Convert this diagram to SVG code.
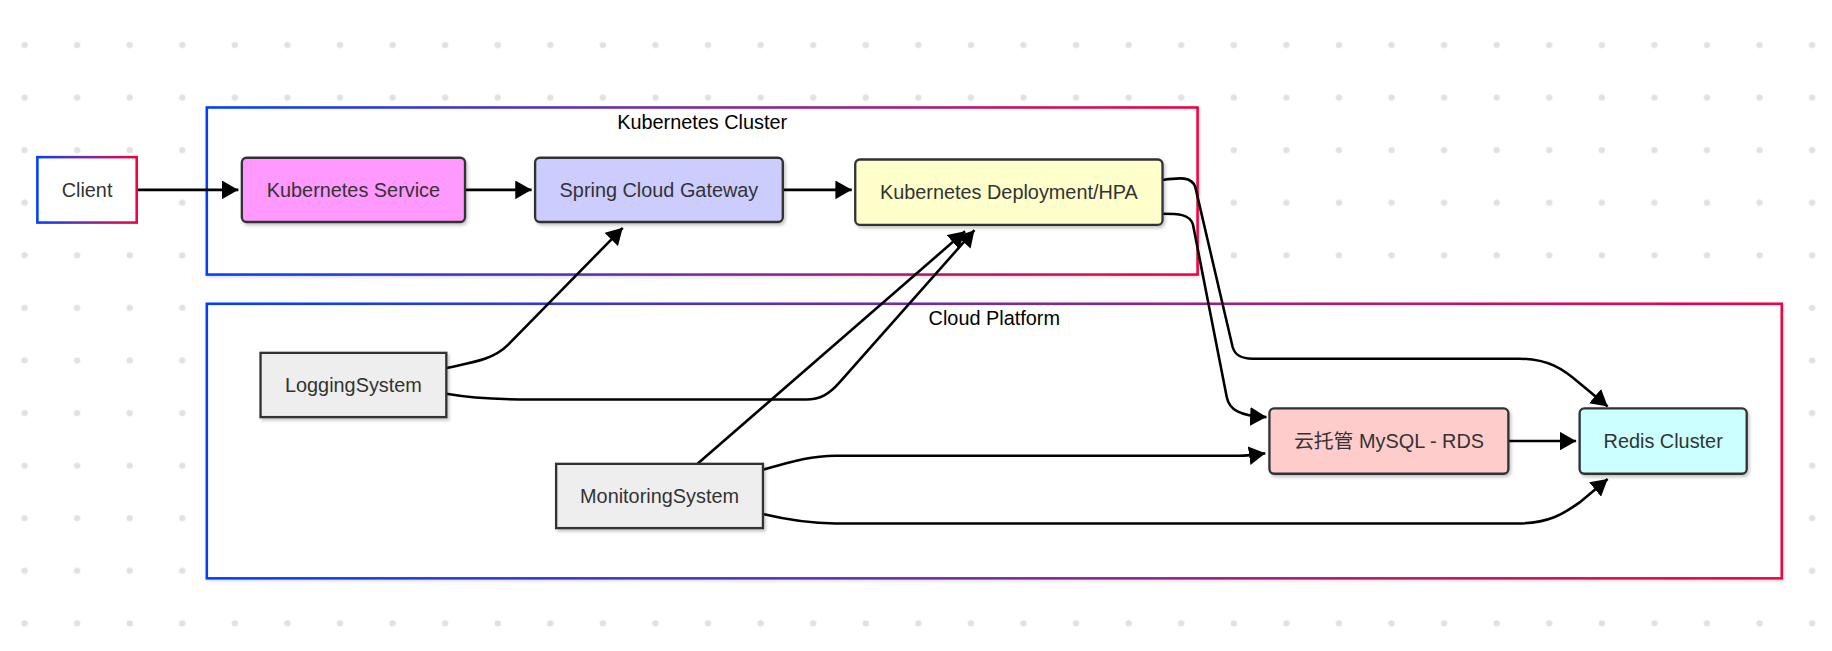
<svg xmlns="http://www.w3.org/2000/svg" width="1832" height="651" viewBox="0 0 1832 651">
<style>
.node rect{stroke:#333;stroke-width:2;filter:url(#sh)}
.lbl{font-family:"Liberation Sans",Arial,"Noto Sans CJK SC",sans-serif;font-size:17px;fill:#333;text-anchor:middle}
.clbl{font-family:"Liberation Sans",Arial,sans-serif;font-size:17px;fill:#000;text-anchor:middle}
.cluster rect{fill:#fff;stroke:url(#grad);stroke-width:2.2;filter:url(#csh)}
#edges path{fill:none;stroke:#000;stroke-width:2.2;marker-end:url(#arr)}
</style>
<defs>
<pattern id="dots" x="0" y="0" width="45" height="45" patternUnits="userSpaceOnUse">
<circle cx="21" cy="38.5" r="2.7" fill="#e1e1e1"/>
</pattern>
<linearGradient id="grad" x1="0" y1="0" x2="1" y2="0">
<stop offset="0" stop-color="#0040ff"/>
<stop offset="0.5" stop-color="#7a2aa0"/>
<stop offset="1" stop-color="#f50040"/>
</linearGradient>
<filter id="sh" x="-10%" y="-20%" width="130%" height="150%">
<feDropShadow dx="1.5" dy="2" stdDeviation="1.5" flood-color="#000" flood-opacity="0.22"/>
</filter>
<filter id="csh" x="-5%" y="-10%" width="110%" height="130%">
<feDropShadow dx="1" dy="1.5" stdDeviation="1.5" flood-color="#000" flood-opacity="0.12"/>
</filter>
<marker id="arr" viewBox="0 0 14 16" refX="14" refY="8" markerWidth="14" markerHeight="16" markerUnits="userSpaceOnUse" orient="auto">
<path d="M0,0 L14,8 L0,16 z" fill="#000"/>
</marker>
</defs>
<g transform="scale(1.168367)">
<rect x="0" y="0" width="1568" height="557" fill="#fff"/>
<rect x="0" y="0" width="1568" height="557" fill="url(#dots)"/>

<g id="cluster-k8s" class="cluster">
<rect x="177" y="92" width="848" height="143"/>
<text class="clbl" x="601" y="110">Kubernetes Cluster</text>
</g>
<g id="cluster-cloud" class="cluster">
<rect x="177" y="260" width="1348" height="235"/>
<text class="clbl" x="851" y="278">Cloud Platform</text>
</g>

<g id="edges">
<path d="M117,162.5 L204,162.5"/>
<path d="M398,162.5 L455,162.5"/>
<path d="M670,162.5 L729,162.5"/>
<path d="M995,183 C1008,183 1018,183 1021,192 L1050,340 C1052,350 1060,356 1084,357"/>
<path d="M995,154 C1010,152 1020,151 1023,160 L1055,297 C1057,304 1062,307 1072,307 L1300,307 C1325,307 1338,316 1352,328 L1376,348"/>
<path d="M382,315 C405,310 422,308 435,295 L533,195"/>
<path d="M382,337 C405,341 425,342 455,342 L690,342 C702,342 710,337 718,328 L834,197"/>
<path d="M597,397 L826,198"/>
<path d="M653,402 C678,395 695,390 715,390 L1060,390 C1070,390 1076,389 1083,388"/>
<path d="M653,440 C678,446 695,448 715,448 L1300,448 C1325,448 1338,440 1352,430 L1376,410"/>
<path d="M1291,377.5 L1349,377.5"/>
</g>

<g id="client">
<rect x="32" y="134.5" width="85" height="56" fill="#fff" stroke="url(#grad)" stroke-width="2.2"/>
<text class="lbl" x="74.5" y="168.5">Client</text>
</g>
<g id="k8s-service" class="node">
<rect x="207" y="135" width="191" height="55" rx="4" fill="#ff99ff"/>
<text class="lbl" x="302.5" y="168.5">Kubernetes Service</text>
</g>
<g id="gateway" class="node">
<rect x="458" y="135" width="212" height="55" rx="4" fill="#ccccff"/>
<text class="lbl" x="564" y="168.5">Spring Cloud Gateway</text>
</g>
<g id="deployment" class="node">
<rect x="732" y="136.5" width="263" height="56" rx="4" fill="#ffffcc"/>
<text class="lbl" x="863.5" y="170.5">Kubernetes Deployment/HPA</text>
</g>
<g id="logging" class="node">
<rect x="223" y="302" width="159" height="55" fill="#eeeeee"/>
<text class="lbl" x="302.5" y="335.5">LoggingSystem</text>
</g>
<g id="monitoring" class="node">
<rect x="476" y="397" width="177" height="55" fill="#eeeeee"/>
<text class="lbl" x="564.5" y="430.5">MonitoringSystem</text>
</g>
<g id="mysql" class="node">
<rect x="1086.5" y="349.5" width="204.5" height="56" rx="4" fill="#ffcccc"/>
<text class="lbl" x="1188.8" y="383.5">云托管 MySQL - RDS</text>
</g>
<g id="redis" class="node">
<rect x="1352" y="349.5" width="143" height="56" rx="4" fill="#ccffff"/>
<text class="lbl" x="1423.5" y="383.5">Redis Cluster</text>
</g>
</g>
</svg>
